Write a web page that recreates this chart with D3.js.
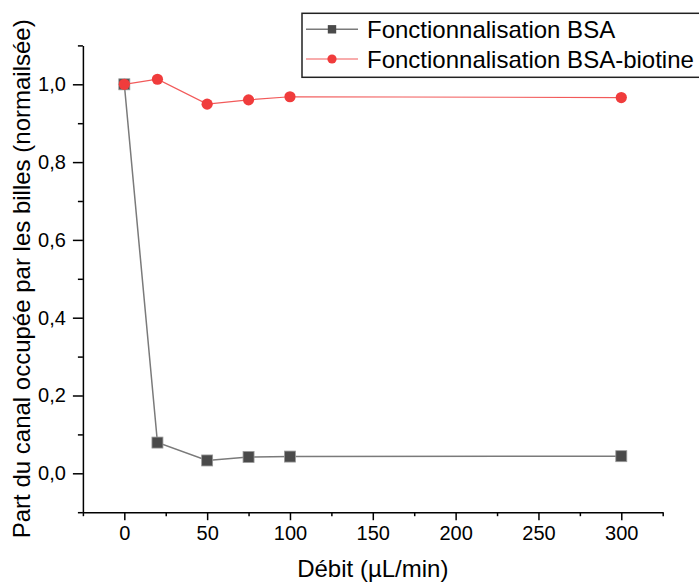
<!DOCTYPE html>
<html>
<head>
<meta charset="utf-8">
<script src="https://cdn.jsdelivr.net/npm/d3@7"></script>
<style>
  html, body { margin: 0; padding: 0; background: #fff; }
  svg { display: block; font-family: "Liberation Sans", Arial, sans-serif; }
</style>
</head>
<body>
<svg id="chart" width="699" height="584"></svg>
<script>
// ---- data ----
const debit = [0, 20, 50, 75, 100, 300];
const bsa = [1.0, 0.079, 0.033, 0.042, 0.043, 0.044];
const bsaBiotine = [1.0, 1.013, 0.949, 0.960, 0.968, 0.966];
const seriesNames = ["Fonctionnalisation BSA", "Fonctionnalisation BSA-biotine"];
const xTicks = [0, 50, 100, 150, 200, 250, 300];
const xMinorTicks = [-25, 25, 75, 125, 175, 225, 275, 325];
const yTicks = [0, 0.2, 0.4, 0.6, 0.8, 1.0];
const yMinorTicks = [-0.1, 0.1, 0.3, 0.5, 0.7, 0.9, 1.1];
const xTitle = "Débit (µL/min)";
const yTitle = "Part du canal occupée par les billes (normailsée)";

// ---- layout ----
const svg = d3.select("#chart");
const x = d3.scaleLinear().domain([-25, 325]).range([82.9, 662.7]);
const y = d3.scaleLinear().domain([-0.1, 1.1]).range([512.2, 45.4]);
const fmt = v => d3.format(".1f")(v).replace(".", ",");

const axisColor = "#000";

// minor ticks
svg.append("g").attr("transform", `translate(0,${y(-0.1)})`)
  .call(d3.axisBottom(x).tickValues(xMinorTicks).tickSize(4).tickFormat(""))
  .call(g => g.select(".domain").remove())
  .call(g => g.selectAll("line").attr("stroke", axisColor).attr("stroke-width", 1.5));
svg.append("g").attr("transform", `translate(${x(-25)},0)`)
  .call(d3.axisLeft(y).tickValues(yMinorTicks).tickSize(5).tickFormat(""))
  .call(g => g.select(".domain").remove())
  .call(g => g.selectAll("line").attr("stroke", axisColor).attr("stroke-width", 1.5));

// major axes
const xAxis = svg.append("g").attr("transform", `translate(0,${y(-0.1)})`)
  .call(d3.axisBottom(x).tickValues(xTicks).tickSize(8).tickPadding(6).tickSizeOuter(0).tickFormat(d => d));
const yAxis = svg.append("g").attr("transform", `translate(${x(-25)},0)`)
  .call(d3.axisLeft(y).tickValues(yTicks).tickSize(10).tickPadding(7).tickSizeOuter(0).tickFormat(fmt));
[xAxis, yAxis].forEach(g => {
  g.select(".domain").attr("stroke", axisColor).attr("stroke-width", 1.5);
  g.selectAll("line").attr("stroke", axisColor).attr("stroke-width", 1.5);
  g.selectAll("text").attr("font-size", 20).attr("fill", "#000")
    .attr("font-family", "'Liberation Sans', Arial, sans-serif");
});

// axis titles
svg.append("text")
  .attr("x", (x(-25) + x(325)) / 2).attr("y", 577)
  .attr("text-anchor", "middle").attr("font-size", 24).attr("fill", "#000")
  .text(xTitle);
svg.append("text")
  .attr("transform", `translate(30,${(y(-0.1) + y(1.1)) / 2}) rotate(-90)`)
  .attr("text-anchor", "middle").attr("font-size", 24).attr("fill", "#000")
  .text(yTitle);

// ---- series ----
const line = d3.line().x(d => x(d[0])).y(d => y(d[1]));
const bsaPts = debit.map((d, i) => [d, bsa[i]]);
const bioPts = debit.map((d, i) => [d, bsaBiotine[i]]);

svg.append("path").datum(bsaPts).attr("d", line)
  .attr("fill", "none").attr("stroke", "#7a7a7a").attr("stroke-width", 1.5);
svg.selectAll(".sq").data(bsaPts).join("rect")
  .attr("x", d => x(d[0]) - 5.5).attr("y", d => y(d[1]) - 5.5)
  .attr("width", 11).attr("height", 11)
  .attr("fill", "#4a4a4a").attr("stroke", "#9a9a9a").attr("stroke-width", 0.8);

svg.append("path").datum(bioPts).attr("d", line)
  .attr("fill", "none").attr("stroke", "#f25a5a").attr("stroke-width", 1.2);
svg.selectAll(".ci").data(bioPts).join("circle")
  .attr("cx", d => x(d[0])).attr("cy", d => y(d[1])).attr("r", 5.6)
  .attr("fill", "#f03c3c");

// ---- legend ----
const leg = svg.append("g");
leg.append("rect").attr("x", 302).attr("y", 13.3).attr("width", 420).attr("height", 64)
  .attr("fill", "#fff").attr("stroke", "#222").attr("stroke-width", 1.5);
const rows = [29.3, 59];
// row 1
leg.append("line").attr("x1", 306).attr("x2", 358).attr("y1", rows[0]).attr("y2", rows[0])
  .attr("stroke", "#7a7a7a").attr("stroke-width", 1.5);
leg.append("rect").attr("x", 332 - 4.2).attr("y", rows[0] - 4.2).attr("width", 8.4).attr("height", 8.4)
  .attr("fill", "#4a4a4a");
// row 2
leg.append("line").attr("x1", 306).attr("x2", 358).attr("y1", rows[1]).attr("y2", rows[1])
  .attr("stroke", "#f25a5a").attr("stroke-width", 1.2);
leg.append("circle").attr("cx", 332).attr("cy", rows[1]).attr("r", 4.6).attr("fill", "#f03c3c");
seriesNames.forEach((n, i) => {
  leg.append("text").attr("x", 367).attr("y", rows[i] + 8.5)
    .attr("font-size", 24).attr("fill", "#000").text(n);
});
</script>
</body>
</html>
